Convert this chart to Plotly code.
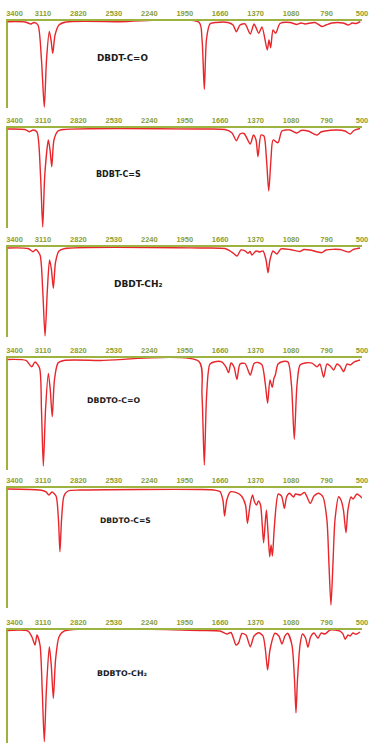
import plotly.graph_objects as go

# ---------------- data ----------------
tick_values = [3400, 3110, 2820, 2530, 2240, 1950, 1660, 1370, 1080, 790, 500]
tick_labels = ["3400", "3110", "2820", "2530", "2240", "1950",
               "1660", "1370", "1080", "790", "500"]

sample_names = ["DBDT-C=O", "BDBT-C=S", "DBDT-CH₂",
                "DBDTO-C=O", "DBDTO-C=S", "BDBTO-CH₂"]

# wavenumber (cm-1) / transmittance (%) pairs
wn_dbdt_co = [3400, 3257, 3208, 3183, 3151, 3122, 3099, 3081, 3058, 3044, 3030, 3011, 2979, 2921,
              2480, 1834, 1809, 1790, 1772, 1744, 1694, 1596, 1555, 1528, 1498, 1457, 1414, 1383,
              1345, 1318, 1275, 1261, 1247, 1228, 1206, 1171, 1089, 1032, 999, 966, 885, 827,
              795, 746, 656, 609, 582, 549, 514]
t_dbdt_co = [99.2, 98.9, 96.6, 98.3, 95.4, 55.2, 1.1, 55.2, 87.9, 78, 62.9, 83.9, 95.4, 98.9,
             99.2, 98.5, 79.3, 21.5, 79.3, 96.6, 98.3, 98.3, 95.4, 87.7, 95.4, 96.6, 85.1, 96.6,
             85.9, 93.1, 66.7, 78.2, 69.3, 89.7, 85.9, 97.1, 98.3, 96, 97.7, 96.6, 98.3, 93.7,
             95.4, 97.7, 97.7, 95.4, 97.7, 97.1, 99.4]

wn_bdbt_cs = [3400, 3257, 3222, 3191, 3159, 3130, 3112, 3095, 3066, 3052, 3038, 3020, 2987, 2938,
              1825, 1620, 1563, 1528, 1498, 1465, 1414, 1388, 1367, 1351, 1326, 1302, 1281, 1263,
              1245, 1227, 1187, 1155, 1089, 1032, 999, 942, 868, 836, 803, 705, 639, 596, 566, 516]
t_bdbt_cs = [99, 98.5, 96.3, 98, 96, 53, 1, 53, 88, 78, 61.3, 88, 97, 98.5,
             99, 98.5, 95, 87.3, 94, 94.5, 84, 93, 88, 71.3, 93, 92, 68, 37,
             68, 88, 85.3, 97, 98, 95, 97.5, 97, 93, 96, 97, 98, 97, 94, 97.5, 99.5]

wn_dbdt_ch2 = [3400, 3232, 3191, 3167, 3134, 3112, 3093, 3074, 3056, 3040, 3025, 3007, 2979, 2930,
               1825, 1621, 1580, 1555, 1522, 1490, 1457, 1433, 1416, 1400, 1367, 1335, 1310, 1285,
               1269, 1253, 1228, 1196, 1163, 1089, 1007, 975, 926, 827, 795, 680, 604, 574, 516]
t_dbdt_ch2 = [98.9, 98.3, 94.8, 97.2, 91.1, 52.2, 1.1, 52.2, 85.6, 74.4, 54.1, 83.3, 95.6, 98.3,
              98.9, 98.3, 95.6, 93.3, 90, 96.7, 95.6, 93, 95, 91.1, 95.6, 94.4, 95.6, 85.6,
              71.4, 85.6, 95.6, 92.2, 97.8, 97.2, 95, 97.2, 96.7, 93.7, 96.7, 97.2, 94.4, 97.2, 98.9]

wn_dbdto_co = [3400, 3249, 3202, 3175, 3138, 3122, 3107, 3089, 3066, 3050, 3034, 3016, 2987, 2938,
               2640, 1834, 1809, 1790, 1771, 1744, 1703, 1645, 1613, 1591, 1572, 1547, 1523, 1498,
               1457, 1414, 1383, 1351, 1318, 1290, 1272, 1253, 1234, 1220, 1209, 1187, 1146, 1105,
               1077, 1054, 1032, 1007, 966, 909, 868, 844, 814, 787, 760, 732, 705, 680, 650, 623,
               596, 566, 516]
t_dbdto_co = [98.7, 97.8, 92.2, 96.4, 91.1, 53.6, 3.6, 53.6, 86.3, 71.4, 47.6, 80.4, 95.5, 97.8,
              97.8, 96.9, 67, 4.5, 67, 94.6, 96.7, 96.4, 92, 86.9, 95.5, 92, 81, 94.6,
              95.1, 84.8, 95.1, 96, 93.8, 75.9, 59.6, 80.4, 73.8, 82.1, 84.8, 94.6, 96.9, 96.4,
              75.9, 27.4, 75.9, 93.8, 95.5, 95.5, 92.2, 94.6, 82.8, 94.6, 92.9, 89.3, 94.6, 92.9,
              87.8, 94.6, 93.8, 96.4, 98.2]

wn_dbdto_cs = [3400, 3134, 3085, 3061, 3036, 3003, 2983, 2971, 2958, 2938, 2905, 2807,
               1825, 1707, 1662, 1638, 1624, 1606, 1577, 1528, 1486, 1453, 1437, 1416, 1396,
               1379, 1363, 1347, 1330, 1316, 1305, 1293, 1282, 1270, 1255, 1244, 1233, 1216,
               1185, 1158, 1135, 1117, 1093, 1060, 1044, 1003, 970, 923, 893, 854, 819, 787,
               770, 754, 738, 721, 691, 672, 652, 631, 615, 590, 574, 541, 500]
t_dbdto_cs = [99.2, 98.3, 96.7, 94.2, 96.7, 93.3, 73.3, 46.9, 73.3, 93.3, 97.5, 98.3,
              98.75, 98.3, 97, 90, 76.7, 90, 96.7, 96.1, 93.3, 85.8, 70.6, 85.8, 94.2,
              88.3, 85.8, 89.2, 85.8, 69.2, 54.4, 69.2, 81.7, 65, 42.75, 52.5, 43.3, 69.2,
              95, 93.3, 83.1, 92.5, 95.6, 92.5, 95, 94.2, 96.25, 87.25, 93.3, 95.6, 92.5, 73.3,
              35.8, 2.5, 35.8, 73.3, 92.75, 90, 81.7, 62.75, 81.7, 92.5, 90.8, 95, 91.7]

wn_bdbto_ch2 = [3400, 3232, 3200, 3175, 3159, 3134, 3116, 3099, 3082, 3058, 3042, 3025, 3007,
                2979, 2938, 1825, 1662, 1605, 1572, 1547, 1531, 1510, 1482, 1449, 1414, 1383,
                1345, 1310, 1290, 1272, 1253, 1212, 1180, 1155, 1130, 1108, 1073, 1052, 1040,
                1028, 1007, 987, 962, 942, 921, 893, 860, 835, 803, 760, 680, 656, 637, 615,
                598, 574, 549, 516]
t_bdbto_ch2 = [99.6, 99.1, 93.8, 86.7, 95.6, 86.7, 46.9, 1.2, 46.9, 85.2, 69, 39.6, 73.5,
               93.8, 99.1, 99.6, 99.1, 96.5, 97.8, 91.2, 86.7, 88.5, 96.9, 95.6, 85.2, 94.7,
               97.6, 94.7, 82.3, 64.6, 82.3, 97.1, 94.7, 87.6, 94.7, 97.1, 86.7, 55.8, 26.8,
               55.8, 86.7, 96.5, 92.9, 84.7, 93.8, 97.3, 92.7, 97.3, 96.5, 100, 99.1, 96.5, 91.8, 95.6,
               94.7, 97.3, 96.2, 98.2]

spectra = [(wn_dbdt_co, t_dbdt_co), (wn_bdbt_cs, t_bdbt_cs), (wn_dbdt_ch2, t_dbdt_ch2),
           (wn_dbdto_co, t_dbdto_co), (wn_dbdto_cs, t_dbdto_cs), (wn_bdbto_ch2, t_bdbto_ch2)]

# ---------------- layout / style ----------------
W, H = 377, 752
x_left_px, x_right_px = 7.5, 362
panel_px = [(21, 108), (128, 228), (247, 337), (358, 470), (488, 608), (630, 743)]
label_px = [(122, 58), (118, 174.5), (137.7, 284.5), (113, 400), (125.3, 520.7), (121.7, 673)]
label_size = [8.8, 8.0, 9.0, 7.8, 7.6, 7.9]

axis_green = "#9db33f"
tick_green = "#8a9e32"
red = "#e8262b"
tick_font = dict(family="Liberation Sans", size=7.5, color=tick_green, weight="bold")

fig = go.Figure()
layout = dict(width=W, height=H, margin=dict(l=0, r=0, t=0, b=0, autoexpand=False),
              paper_bgcolor="white", plot_bgcolor="rgba(0,0,0,0)",
              showlegend=False, annotations=[])

n = len(spectra)
for i, ((wn, tr), (top, bot)) in enumerate(zip(spectra, panel_px), start=1):
    xa = "x" if i == 1 else f"x{i}"
    ya = "y" if i == 1 else f"y{i}"
    xo = f"x{i + n}"
    fig.add_trace(go.Scatter(x=wn, y=tr, mode="lines", xaxis=xa, yaxis=ya,
                             line=dict(color=red, width=1.4, shape="spline", smoothing=0.7),
                             hoverinfo="skip"))
    # empty trace so the overlay axis (first tick label) is drawn
    fig.add_trace(go.Scatter(x=[], y=[], mode="lines", xaxis=xo, yaxis=ya, hoverinfo="skip"))
    xdom = [x_left_px / W, x_right_px / W]
    layout[f"xaxis{'' if i == 1 else i}"] = dict(
        domain=xdom, range=[3400, 500], anchor=ya,
        side="top", showline=True, linecolor=axis_green, linewidth=2,
        ticks="", tickvals=tick_values[1:], ticktext=tick_labels[1:],
        tickfont=tick_font, automargin=False,
        showgrid=False, zeroline=False, layer="below traces", fixedrange=True)
    layout[f"xaxis{i + n}"] = dict(
        domain=xdom, range=[3400, 500], anchor=ya, overlaying=xa,
        side="top", showline=True, linecolor="rgba(0,0,0,0)", linewidth=2,
        ticks="", tickvals=tick_values[:1], ticktext=tick_labels[:1],
        ticklabelshift=-7, ticklabeloverflow="allow", tickfont=tick_font, automargin=False,
        showgrid=False, zeroline=False, layer="below traces", fixedrange=True)
    layout[f"yaxis{'' if i == 1 else i}"] = dict(
        domain=[1 - bot / H, 1 - top / H], range=[0, 100], anchor=xa,
        showline=True, linecolor=axis_green, linewidth=2, automargin=False,
        showticklabels=False, ticks="", showgrid=False, zeroline=False,
        layer="below traces", fixedrange=True)

for name, (lx, ly), sz in zip(sample_names, label_px, label_size):
    layout["annotations"].append(dict(
        text=f"<b>{name}</b>", x=lx / W, y=1 - ly / H, xref="paper", yref="paper",
        xanchor="center", yanchor="middle", showarrow=False,
        font=dict(family="DejaVu Sans", size=sz, color="#1a1a1a")))

fig.update_layout(**layout)
fig.write_html("out.html", config={"displayModeBar": False},
               post_script="document.body.style.margin='0';document.body.style.padding='0';")
